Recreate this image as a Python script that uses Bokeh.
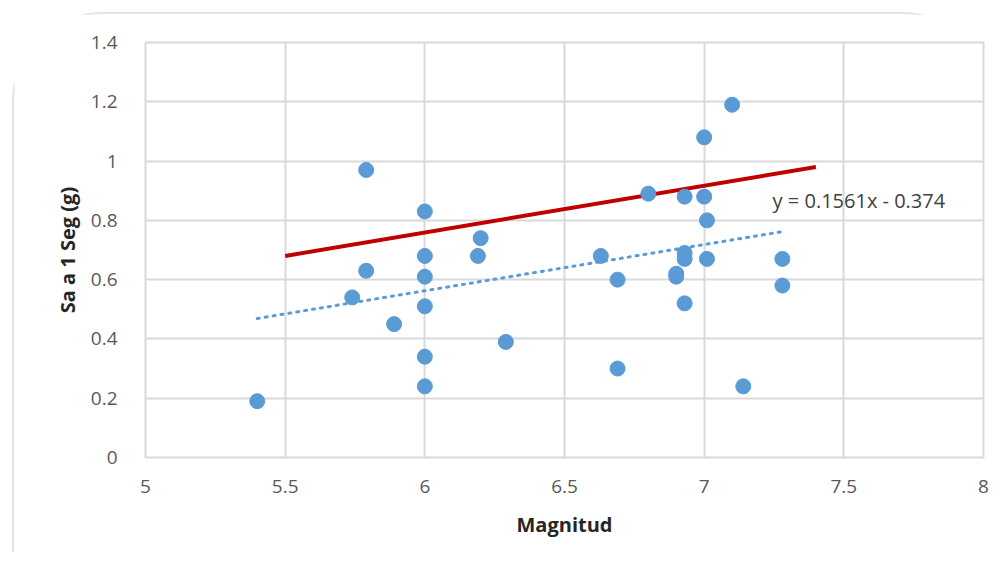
from bokeh.plotting import figure
from bokeh.models import FixedTicker, ColumnDataSource, Range1d, Label
from bokeh.embed import file_html
from bokeh.resources import INLINE

# Data
magnitud = [5.40, 5.74, 5.79, 5.79, 5.89, 6.00, 6.00, 6.00, 6.00, 6.00, 6.00,
            6.19, 6.20, 6.29, 6.63, 6.69, 6.69, 6.80, 6.90, 6.90, 6.93, 6.93,
            6.93, 6.93, 7.00, 7.00, 7.01, 7.01, 7.10, 7.14, 7.28, 7.28]
sa_1seg = [0.19, 0.54, 0.97, 0.63, 0.45, 0.83, 0.68, 0.61, 0.51, 0.34, 0.24,
           0.68, 0.74, 0.39, 0.68, 0.60, 0.30, 0.89, 0.62, 0.61, 0.88, 0.69,
           0.67, 0.52, 1.08, 0.88, 0.80, 0.67, 1.19, 0.24, 0.67, 0.58]

red_x = [5.50, 7.40]
red_y = [0.68, 0.98]

trend_x = [5.40, 7.28]
trend_y = [0.469, 0.762]
trend_label = "y = 0.1561x - 0.374"

x_ticks = [5, 5.5, 6, 6.5, 7, 7.5, 8]
x_tick_labels = ["5", "5.5", "6", "6.5", "7", "7.5", "8"]
y_ticks = [0, 0.2, 0.4, 0.6, 0.8, 1.0, 1.2, 1.4]
y_tick_labels = ["0", "0.2", "0.4", "0.6", "0.8", "1", "1.2", "1.4"]

FONT = "Open Sans"
GRID = "#d9d9d9"
BLUE = "#5b9bd5"

p = figure(width=995, height=556, output_backend="svg", toolbar_location=None,
           x_range=Range1d(5, 8), y_range=Range1d(0, 1.4),
           min_border_left=131, min_border_right=10, min_border_top=28, min_border_bottom=95)
p.frame_width = 838
p.frame_height = 415
p.background_fill_color = "white"
p.border_fill_color = "white"
p.outline_line_color = GRID
p.outline_line_width = 2

for ax in (p.xaxis[0], p.yaxis[0]):
    ax.axis_line_color = None
    ax.major_tick_line_color = None
    ax.minor_tick_line_color = None
    ax.major_label_text_font = FONT
    ax.major_label_text_font_size = "19px"
    ax.major_label_text_color = "#595959"
    ax.axis_label_text_font = FONT
    ax.axis_label_text_font_size = "20px"
    ax.axis_label_text_font_style = "bold"
    ax.axis_label_text_color = "#262626"

p.xaxis.ticker = FixedTicker(ticks=x_ticks)
p.xaxis.major_label_overrides = {t: l for t, l in zip(x_ticks, x_tick_labels)}
p.yaxis.ticker = FixedTicker(ticks=y_ticks)
p.yaxis.major_label_overrides = {t: l for t, l in zip(y_ticks, y_tick_labels)}
p.xaxis.major_label_standoff = 16
p.yaxis.major_label_standoff = 22
p.xaxis.axis_label = "Magnitud"
p.yaxis.axis_label = "Sa a 1 Seg (g)"
p.xaxis.axis_label_standoff = 15
p.yaxis.axis_label_standoff = 7

p.xgrid.grid_line_color = GRID
p.ygrid.grid_line_color = GRID
p.xgrid.grid_line_width = 2
p.ygrid.grid_line_width = 2

p.line(red_x, red_y, line_color="#c00000", line_width=4)
p.line(trend_x, trend_y, line_color=BLUE, line_width=3, line_dash="2 6", line_cap="round")

src = ColumnDataSource(dict(x=magnitud, y=sa_1seg))
p.scatter("x", "y", source=src, size=15, fill_color=BLUE, line_color=BLUE)

p.add_layout(Label(x=7.245, y=0.868, text=trend_label, text_font=FONT,
                   text_font_size="20px", text_color="#404040",
                   text_baseline="middle", text_align="left"))

p.styles = {"margin-top": "12px", "margin-left": "12px",
            "border-top": "2px solid #e3e3e3", "border-left": "2px solid #e3e3e3",
            "border-top-left-radius": "90px", "border-top-right-radius": "90px"}

open("out.html", "w").write(file_html(p, INLINE))
